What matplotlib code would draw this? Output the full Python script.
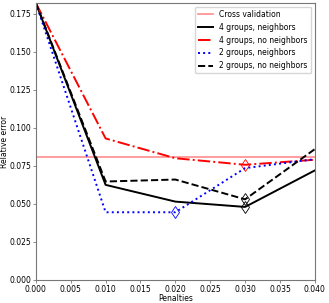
import matplotlib
matplotlib.use("Agg")
import matplotlib.pyplot as plt
import numpy as np

penalties = [0.0, 0.01, 0.02, 0.03, 0.04]
cross_validation = 0.081

four_neighbors = [0.182, 0.0625, 0.0515, 0.048, 0.072]
four_no_neighbors = [0.182, 0.093, 0.080, 0.0757, 0.079]
two_neighbors = [0.182, 0.0445, 0.0445, 0.0735, 0.0794]
two_no_neighbors = [0.182, 0.0647, 0.066, 0.053, 0.086]

series = [
    ("4 groups, neighbors", four_neighbors, "black", "-"),
    ("4 groups, no neighbors", four_no_neighbors, "red", "-."),
    ("2 groups, neighbors", two_neighbors, "blue", ":"),
    ("2 groups, no neighbors", two_no_neighbors, "black", "--"),
]

plt.rcParams["font.size"] = 5.5

fig = plt.figure(figsize=(3.29, 3.03), dpi=100)
ax = fig.add_axes([0.109, 0.076, 0.848, 0.914])

ax.axhline(cross_validation, color="red", alpha=0.45, linewidth=1.2, label="Cross validation")

for label, values, color, style in series:
    ax.plot(penalties, values, color=color, linestyle=style, linewidth=1.4, label=label)
    # mark the best penalty (last one on ties) with a hollow diamond
    v = np.array(values)
    i = int(np.flatnonzero(np.isclose(v, v.min()))[-1])
    ax.plot(penalties[i], values[i], marker="d", markersize=6, markerfacecolor="none",
            markeredgecolor=color, markeredgewidth=0.6, linestyle="none")

ax.set_xlim(0, 0.04)
ax.set_ylim(0, 0.182)
ax.set_xticks(np.arange(0, 0.0401, 0.005))
ax.set_yticks(np.arange(0, 0.18, 0.025))
ax.xaxis.set_major_formatter(matplotlib.ticker.FormatStrFormatter("%.3f"))
ax.yaxis.set_major_formatter(matplotlib.ticker.FormatStrFormatter("%.3f"))
ax.tick_params(length=2.5, width=0.6, pad=0.8, color="#777777")
for s in ax.spines.values():
    s.set_color("#777777")

ax.set_xlabel("Penalties", labelpad=0.5)
ax.set_ylabel("Relative error", labelpad=0.5)
ax.legend(loc="upper right", fontsize=5.5, handlelength=2.0, borderaxespad=0.5)

fig.savefig("out.png", dpi=100)
